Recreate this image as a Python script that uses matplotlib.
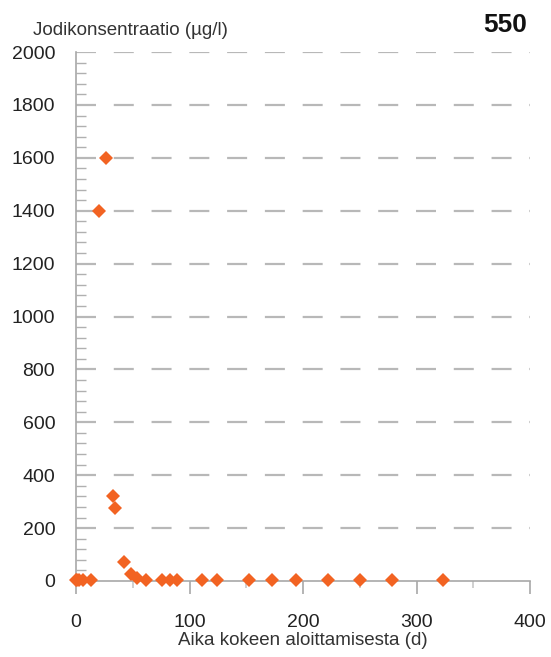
import numpy as np
import matplotlib.pyplot as plt
from matplotlib.ticker import MultipleLocator

plt.rcParams['font.family'] = ['Liberation Sans', 'DejaVu Sans']

# Näytteenottopäivät (d) ja jodikonsentraatio (µg/l)
paivat = [0, 1, 3, 6, 13, 20, 26, 33, 34, 42, 48, 54, 62, 76, 83, 89,
          111, 124, 152, 173, 194, 222, 250, 278, 323]
jodi = [2, 2, 2, 2, 2, 1400, 1600, 320, 275, 73, 27, 10, 3, 2, 2, 2,
        2, 2, 2, 2, 2, 2, 2, 2, 2]

naytenumero = "550"
y_otsikko = "Jodikonsentraatio (µg/l)"
x_otsikko = "Aika kokeen aloittamisesta (d)"

fig = plt.figure(figsize=(5.51, 6.57), dpi=100)
ax = fig.add_axes([0.138, 0.1157, 0.824, 0.805])

harmaa = '#a8a8a8'
ax.set_xlim(0, 400)
ax.set_ylim(0, 2000)

# katkoviivat 200 välein
for y in range(200, 2001, 200):
    ax.plot([0, 400], [y, y], color='#b8b8b8', lw=1.6,
            linestyle=(0, (9, 8)), zorder=1, solid_capstyle='butt')

ax.plot(paivat, jodi, 'D', color='#f26322', markersize=7,
        markeredgewidth=0, clip_on=False, zorder=3)

for s in ['top', 'right']:
    ax.spines[s].set_visible(False)
for s in ['left', 'bottom']:
    ax.spines[s].set_color(harmaa)
    ax.spines[s].set_linewidth(1.2)

ax.xaxis.set_major_locator(MultipleLocator(100))
ax.xaxis.set_minor_locator(MultipleLocator(50))
ax.yaxis.set_major_locator(MultipleLocator(200))
ax.yaxis.set_minor_locator(MultipleLocator(40))

ax.tick_params(axis='x', which='major', direction='out', length=9,
               width=1.2, color=harmaa, labelsize=14, pad=14.5,
               labelcolor='#222222')
ax.tick_params(axis='x', which='minor', direction='out', length=5,
               width=1.2, color='#c8c8c8')
ax.tick_params(axis='y', which='major', direction='in', length=0,
               labelsize=14, pad=15, labelcolor='#222222')
ax.tick_params(axis='y', which='minor', direction='in', length=7,
               width=1.0, color='#b0b0b0')

ax.set_xlabel(x_otsikko, fontsize=13.5, color='#333333', labelpad=1)
fig.text(0.06, 0.954, y_otsikko, fontsize=13.5, color='#333333',
         ha='left', va='center')
fig.text(0.956, 0.962, naytenumero, fontsize=19, fontweight='bold',
         color='#111111', ha='right', va='center')

fig.savefig('out.png', dpi=100)
